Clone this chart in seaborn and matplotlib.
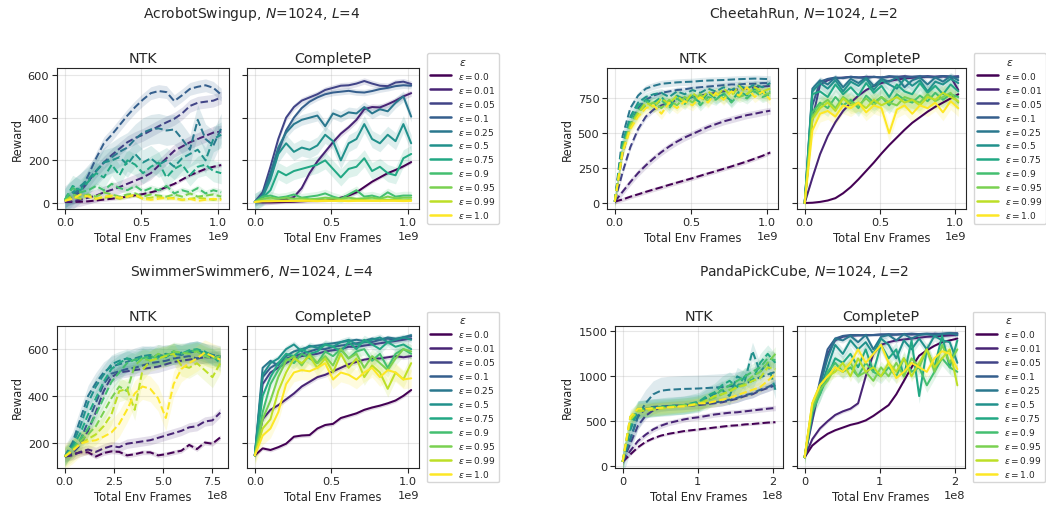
import numpy as np
import matplotlib
matplotlib.use("Agg")
import matplotlib.pyplot as plt
from matplotlib.lines import Line2D
from matplotlib.ticker import MultipleLocator
import seaborn as sns

sns.set_style("ticks")
plt.rcParams["font.family"] = ["DejaVu Sans"]

# ---------------- data ----------------
EPS = [0.0, 0.01, 0.05, 0.1, 0.25, 0.5, 0.75, 0.9, 0.95, 0.99, 1.0]
N_PTS = 21

# AcrobotSwingup (x: 0 .. 1.02e9)
acro_xmax = 1.02e9
acro_ntk = [
    [5, 5, 6, 8, 12, 16, 20, 25, 30, 36, 42, 50, 60, 75, 90, 110, 130, 145, 160, 170, 178],
    [5, 8, 15, 25, 35, 50, 62, 75, 90, 105, 120, 140, 175, 210, 245, 265, 285, 300, 315, 330, 335],
    [10, 25, 55, 100, 150, 190, 225, 255, 285, 305, 320, 340, 360, 378, 395, 420, 455, 470, 475, 480, 495],
    [10, 30, 60, 130, 210, 280, 320, 365, 410, 450, 485, 515, 525, 520, 478, 505, 535, 545, 552, 540, 508],
    [10, 40, 70, 110, 150, 190, 215, 240, 260, 300, 330, 345, 350, 340, 345, 300, 250, 390, 300, 270, 350],
    [10, 50, 80, 110, 150, 190, 200, 215, 180, 230, 190, 210, 180, 200, 170, 210, 230, 250, 200, 300, 320],
    [15, 80, 60, 100, 140, 120, 180, 130, 200, 180, 140, 170, 190, 120, 160, 180, 130, 170, 180, 150, 140],
    [15, 70, 50, 60, 80, 60, 90, 70, 60, 80, 55, 70, 60, 80, 45, 60, 50, 70, 45, 60, 50],
    [10, 40, 30, 40, 30, 50, 40, 30, 40, 45, 30, 40, 35, 30, 40, 30, 45, 30, 35, 40, 30],
    [10, 30, 20, 35, 20, 25, 30, 20, 30, 35, 20, 25, 30, 20, 25, 15, 20, 25, 20, 15, 20],
    [10, 20, 40, 30, 20, 30, 35, 25, 30, 40, 20, 15, 20, 25, 20, 15, 20, 10, 15, 20, 15],
]
acro_ntk_sd = [8, 30, 30, 30, 70, 60, 50, 15, 10, 8, 8]
acro_cp = [
    [5, 3, 3, 4, 5, 6, 8, 10, 12, 14, 18, 25, 35, 50, 75, 100, 120, 140, 155, 172, 192],
    [5, 5, 8, 12, 18, 28, 70, 140, 195, 240, 285, 325, 355, 390, 440, 450, 448, 463, 480, 500, 515],
    [5, 50, 170, 300, 400, 450, 480, 495, 510, 530, 540, 550, 552, 560, 572, 560, 550, 548, 565, 569, 558],
    [5, 35, 120, 240, 340, 400, 445, 475, 495, 510, 518, 522, 526, 520, 518, 525, 534, 540, 548, 552, 550],
    [5, 40, 140, 260, 330, 370, 390, 400, 410, 360, 420, 405, 425, 420, 450, 420, 440, 430, 470, 500, 405],
    [5, 30, 110, 230, 280, 240, 260, 250, 270, 320, 290, 200, 280, 300, 370, 300, 280, 320, 290, 370, 280],
    [5, 25, 60, 150, 130, 150, 160, 170, 180, 200, 160, 120, 160, 170, 210, 150, 170, 140, 130, 210, 230],
    [5, 30, 35, 25, 30, 40, 25, 30, 35, 45, 30, 20, 40, 60, 30, 35, 25, 50, 30, 35, 35],
    [5, 20, 25, 20, 25, 20, 22, 18, 20, 25, 22, 20, 25, 20, 22, 25, 20, 30, 22, 25, 25],
    [5, 10, 12, 10, 12, 10, 12, 13, 12, 14, 12, 13, 12, 15, 14, 12, 13, 15, 14, 13, 14],
    [5, 8, 8, 9, 9, 10, 10, 10, 9, 10, 10, 10, 9, 10, 10, 10, 10, 10, 10, 9, 10],
]
acro_cp_sd = [8, 15, 15, 15, 25, 40, 40, 20, 8, 4, 3]

# CheetahRun (x: 0 .. 1.02e9)
chee_xmax = 1.02e9
chee_ntk = [
    [10, 25, 45, 62, 80, 97, 113, 130, 146, 162, 178, 195, 212, 228, 245, 262, 280, 298, 318, 338, 362],
    [10, 80, 150, 215, 270, 320, 365, 405, 440, 470, 495, 520, 545, 565, 585, 600, 615, 630, 640, 652, 662],
    [10, 220, 400, 530, 620, 670, 700, 720, 740, 755, 760, 770, 780, 790, 800, 810, 815, 820, 830, 835, 840],
    [10, 350, 560, 680, 740, 770, 790, 800, 810, 815, 825, 830, 835, 840, 845, 850, 850, 855, 855, 860, 860],
    [10, 480, 680, 770, 820, 840, 855, 860, 865, 868, 870, 875, 878, 880, 882, 885, 888, 890, 892, 890, 888],
    [10, 430, 620, 720, 760, 780, 790, 760, 800, 780, 810, 790, 820, 800, 830, 810, 840, 820, 850, 830, 860],
    [10, 420, 600, 700, 740, 720, 760, 700, 770, 740, 760, 720, 790, 750, 780, 730, 800, 770, 820, 790, 800],
    [10, 400, 570, 660, 730, 690, 740, 680, 750, 710, 770, 700, 760, 740, 790, 720, 780, 750, 800, 760, 780],
    [10, 380, 560, 650, 700, 720, 680, 740, 700, 760, 720, 780, 730, 790, 750, 800, 760, 780, 820, 770, 790],
    [10, 370, 550, 640, 720, 690, 750, 710, 770, 720, 790, 740, 800, 760, 820, 770, 840, 780, 830, 800, 820],
    [10, 360, 530, 620, 680, 700, 640, 720, 680, 730, 700, 760, 720, 790, 740, 800, 770, 830, 760, 800, 740],
]
chee_ntk_sd = [15, 25, 20, 20, 25, 30, 40, 40, 40, 40, 40]
chee_cp = [
    [0, 2, 8, 18, 35, 70, 115, 170, 230, 290, 355, 415, 470, 525, 575, 615, 655, 690, 720, 750, 780],
    [0, 180, 350, 480, 580, 660, 720, 770, 810, 840, 860, 875, 885, 893, 898, 902, 905, 905, 908, 905, 810],
    [0, 600, 850, 880, 895, 900, 905, 900, 905, 905, 900, 905, 905, 910, 905, 905, 910, 905, 910, 905, 910],
    [0, 700, 870, 890, 900, 895, 905, 900, 895, 905, 900, 910, 905, 900, 905, 910, 905, 900, 910, 905, 900],
    [0, 820, 880, 850, 900, 830, 890, 860, 900, 840, 890, 870, 900, 830, 880, 900, 850, 900, 870, 910, 880],
    [0, 800, 860, 820, 880, 800, 870, 840, 890, 810, 880, 850, 820, 890, 840, 880, 800, 870, 850, 890, 860],
    [0, 780, 800, 760, 850, 780, 830, 770, 860, 790, 840, 760, 850, 800, 780, 860, 790, 840, 780, 850, 800],
    [0, 650, 720, 680, 760, 700, 740, 680, 770, 720, 760, 700, 780, 740, 720, 770, 730, 790, 740, 780, 760],
    [0, 620, 700, 740, 680, 760, 720, 700, 750, 700, 760, 720, 700, 760, 740, 720, 780, 730, 760, 790, 720],
    [0, 600, 680, 720, 660, 750, 700, 720, 680, 740, 700, 730, 760, 720, 740, 700, 760, 740, 790, 760, 730],
    [0, 520, 640, 660, 620, 700, 680, 720, 650, 700, 680, 500, 670, 700, 640, 700, 680, 720, 650, 730, 680],
]
chee_cp_sd = [5, 10, 10, 10, 25, 40, 50, 60, 60, 60, 60]

# SwimmerSwimmer6 (NTK x: 0 .. 7.93e8, CompleteP x: 0 .. 1.02e9)
swim_ntk_xmax = 7.93e8
swim_cp_xmax = 1.02e9
swim_ntk = [
    [140, 150, 158, 158, 140, 155, 162, 160, 145, 150, 158, 158, 145, 150, 158, 165, 190, 172, 200, 195, 222],
    [140, 145, 160, 170, 160, 175, 185, 180, 195, 200, 205, 210, 220, 230, 240, 250, 265, 270, 290, 295, 328],
    [140, 155, 190, 250, 330, 420, 480, 500, 505, 510, 515, 520, 525, 535, 545, 550, 555, 560, 565, 565, 570],
    [140, 165, 210, 290, 370, 450, 495, 505, 515, 520, 530, 540, 545, 550, 560, 565, 570, 560, 565, 570, 560],
    [140, 200, 300, 400, 455, 500, 525, 535, 545, 560, 570, 565, 575, 570, 580, 575, 585, 590, 580, 575, 570],
    [140, 190, 270, 370, 440, 490, 535, 550, 560, 555, 570, 575, 565, 580, 575, 585, 590, 595, 585, 575, 565],
    [140, 180, 240, 320, 390, 460, 515, 540, 560, 545, 570, 560, 575, 565, 590, 580, 595, 600, 590, 570, 540],
    [140, 175, 215, 260, 320, 390, 460, 500, 540, 555, 560, 570, 560, 575, 590, 580, 590, 595, 580, 565, 555],
    [140, 170, 205, 235, 270, 330, 390, 440, 420, 530, 560, 550, 580, 570, 590, 585, 580, 590, 570, 560, 570],
    [140, 165, 195, 215, 235, 270, 320, 420, 430, 340, 510, 550, 560, 570, 580, 530, 520, 540, 510, 480, 540],
    [140, 165, 195, 205, 210, 225, 243, 280, 340, 410, 440, 430, 390, 305, 450, 515, 540, 560, 585, 570, 555],
]
swim_ntk_sd = [10, 20, 25, 25, 45, 40, 35, 35, 40, 45, 55]
swim_cp = [
    [145, 175, 168, 180, 195, 225, 230, 232, 260, 275, 280, 305, 315, 325, 340, 350, 358, 368, 380, 400, 425],
    [145, 300, 340, 360, 385, 410, 440, 460, 480, 490, 505, 520, 535, 545, 555, 560, 560, 565, 570, 565, 570],
    [145, 450, 500, 520, 540, 560, 570, 575, 580, 590, 595, 600, 610, 610, 615, 620, 625, 630, 635, 640, 645],
    [145, 480, 520, 540, 560, 570, 580, 590, 600, 600, 610, 615, 620, 625, 630, 630, 640, 645, 640, 650, 655],
    [145, 520, 550, 530, 570, 590, 600, 610, 615, 620, 625, 630, 635, 640, 635, 645, 640, 650, 645, 650, 660],
    [145, 490, 540, 560, 600, 620, 590, 615, 605, 620, 610, 630, 640, 620, 630, 640, 650, 630, 640, 650, 640],
    [145, 400, 480, 540, 580, 570, 600, 580, 590, 620, 610, 590, 630, 600, 640, 620, 600, 630, 610, 620, 600],
    [145, 330, 450, 510, 560, 540, 580, 560, 540, 590, 570, 600, 560, 590, 600, 550, 580, 520, 580, 600, 580],
    [145, 300, 380, 480, 550, 570, 530, 580, 540, 570, 530, 600, 560, 580, 520, 570, 540, 510, 560, 600, 590],
    [145, 260, 300, 420, 500, 560, 540, 570, 520, 560, 500, 580, 520, 560, 480, 530, 500, 430, 500, 470, 540],
    [145, 230, 260, 330, 450, 500, 510, 505, 520, 540, 470, 500, 490, 470, 500, 520, 480, 510, 500, 470, 475],
]
swim_cp_sd = [8, 10, 10, 10, 10, 15, 20, 25, 30, 35, 40]

# PandaPickCube (x: 0 .. 2.03e8)
panda_xmax = 2.03e8
panda_ntk = [
    [50, 130, 210, 270, 310, 340, 360, 375, 390, 400, 410, 420, 430, 440, 450, 455, 465, 470, 478, 485, 490],
    [50, 170, 280, 350, 410, 450, 480, 500, 520, 535, 545, 560, 575, 585, 595, 600, 610, 620, 630, 640, 648],
    [50, 250, 450, 560, 620, 650, 660, 665, 670, 675, 680, 690, 700, 710, 730, 750, 780, 800, 840, 870, 900],
    [50, 300, 550, 640, 660, 665, 670, 675, 680, 685, 690, 700, 710, 720, 740, 760, 790, 810, 850, 880, 920],
    [50, 300, 560, 700, 800, 840, 850, 855, 860, 862, 865, 870, 875, 880, 890, 900, 920, 950, 990, 1020, 1050],
    [50, 400, 620, 640, 650, 655, 660, 670, 680, 690, 700, 760, 800, 850, 780, 1000, 950, 1280, 1050, 1150, 850],
    [50, 450, 630, 640, 650, 660, 670, 675, 680, 700, 720, 780, 820, 900, 950, 880, 1000, 950, 1150, 1250, 1150],
    [50, 500, 640, 640, 650, 655, 660, 665, 670, 680, 700, 720, 780, 850, 900, 950, 1000, 1050, 1100, 1200, 1180],
    [50, 550, 620, 630, 640, 650, 660, 670, 680, 690, 700, 740, 760, 800, 850, 880, 920, 1000, 1050, 1150, 1250],
    [50, 520, 610, 620, 630, 640, 650, 660, 670, 680, 690, 730, 780, 800, 830, 880, 900, 950, 980, 1100, 1080],
    [50, 550, 640, 640, 645, 650, 655, 660, 665, 680, 700, 700, 720, 740, 760, 790, 820, 850, 880, 950, 1030],
]
panda_ntk_sd = [15, 30, 40, 50, 150, 100, 100, 90, 80, 70, 60]
panda_cp = [
    [100, 230, 300, 360, 400, 430, 460, 480, 510, 560, 620, 680, 800, 950, 1100, 1230, 1290, 1340, 1380, 1400, 1420],
    [100, 300, 420, 500, 570, 610, 640, 700, 1000, 1250, 1350, 1380, 1400, 1410, 1420, 1430, 1440, 1445, 1450, 1455, 1460],
    [100, 500, 900, 1250, 1400, 1440, 1450, 1455, 1460, 1460, 1465, 1460, 1465, 1470, 1465, 1470, 1470, 1475, 1470, 1475, 1475],
    [100, 550, 950, 1300, 1420, 1450, 1460, 1460, 1455, 1460, 1465, 1470, 1465, 1470, 1475, 1470, 1475, 1470, 1475, 1480, 1480],
    [100, 600, 900, 1200, 1420, 1400, 1450, 1380, 1460, 1300, 1440, 1460, 1400, 1470, 1420, 1460, 1470, 1450, 1470, 1480, 1460],
    [100, 650, 850, 1100, 1350, 1250, 1400, 1300, 1380, 1250, 1420, 1350, 1200, 1400, 1300, 1420, 1300, 1450, 1400, 1380, 1150],
    [100, 650, 800, 1000, 1200, 1150, 1250, 1100, 1300, 1050, 1350, 1200, 1300, 1000, 1400, 780, 1300, 1100, 1450, 1100, 1400],
    [100, 600, 800, 1050, 1150, 1050, 1100, 1000, 1150, 1050, 1000, 1100, 1000, 1200, 1050, 1100, 900, 1050, 1200, 1100, 1050],
    [100, 650, 850, 950, 1100, 1050, 1150, 1000, 1050, 950, 1100, 1000, 1150, 1000, 1200, 1100, 1300, 1050, 1350, 1150, 1300],
    [100, 700, 900, 1000, 1050, 1150, 1000, 1200, 1050, 1100, 1000, 1150, 1050, 1200, 1000, 1150, 1300, 1100, 1200, 1300, 900],
    [100, 700, 900, 1000, 1100, 1050, 1150, 1300, 1150, 1250, 1350, 1150, 980, 1050, 1150, 1100, 1050, 1200, 1280, 1250, 1080],
]
panda_cp_sd = [10, 20, 15, 15, 30, 60, 80, 80, 70, 60, 60]

# tick spacing per panel
acro_ticks = (0.5e9, 0.5e9, 200)
chee_ticks = (0.5e9, 0.5e9, 250)
swim_ticks = (2.5e8, 0.5e9, 200)
panda_ticks = (1e8, 1e8, 500)

# ---------------- figure ----------------
W, H = 1046, 510
fig = plt.figure(figsize=(W / 100, H / 100), dpi=100)
colors = plt.cm.viridis(np.linspace(0, 1, len(EPS)))


def rect(x0, y0, x1, y1):
    return [x0 / W, 1 - y1 / H, (x1 - x0) / W, (y1 - y0) / H]


groups = [
    dict(title=r"AcrobotSwingup, $N$=1024, $L$=4", tpos=(252, 14),
         r1=(57, 69, 229, 210), r2=(247, 69, 419, 210),
         ntk=acro_ntk, ntk_sd=acro_ntk_sd, cp=acro_cp, cp_sd=acro_cp_sd,
         xn=acro_xmax, xc=acro_xmax, ylim=(-28, 633), ticks=acro_ticks),
    dict(title=r"CheetahRun, $N$=1024, $L$=2", tpos=(804, 14),
         r1=(607, 69, 778, 210), r2=(797, 69, 966, 210),
         ntk=chee_ntk, ntk_sd=chee_ntk_sd, cp=chee_cp, cp_sd=chee_cp_sd,
         xn=chee_xmax, xc=chee_xmax, ylim=(-43, 968), ticks=chee_ticks),
    dict(title=r"SwimmerSwimmer6, $N$=1024, $L$=4", tpos=(252, 272),
         r1=(57, 327, 228, 469), r2=(247, 327, 419, 469),
         ntk=swim_ntk, ntk_sd=swim_ntk_sd, cp=swim_cp, cp_sd=swim_cp_sd,
         xn=swim_ntk_xmax, xc=swim_cp_xmax, ylim=(91, 699), ticks=swim_ticks),
    dict(title=r"PandaPickCube, $N$=1024, $L$=2", tpos=(804, 272),
         r1=(615, 327, 783, 469), r2=(797, 327, 965, 469),
         ntk=panda_ntk, ntk_sd=panda_ntk_sd, cp=panda_cp, cp_sd=panda_cp_sd,
         xn=panda_xmax, xc=panda_xmax, ylim=(-20, 1560), ticks=panda_ticks),
]

LW = 1.45
TICK_FS = 8.2
for g in groups:
    ax1 = fig.add_axes(rect(*g["r1"]))
    ax2 = fig.add_axes(rect(*g["r2"]), sharey=ax1)
    tx1, tx2, ty = g["ticks"]
    for ax, data, sd, xmax, ls, name, tx in [
        (ax1, g["ntk"], g["ntk_sd"], g["xn"], "--", "NTK", tx1),
        (ax2, g["cp"], g["cp_sd"], g["xc"], "-", "CompleteP", tx2),
    ]:
        x = np.linspace(0, xmax, N_PTS)
        for i, (vals, s) in enumerate(zip(data, sd)):
            y = np.asarray(vals, dtype=float)
            ax.fill_between(x, y - s, y + s, color=colors[i], alpha=0.15, lw=0)
            sns.lineplot(x=x, y=y, ax=ax, color=colors[i], lw=LW,
                         linestyle=ls, errorbar=None, sort=False)
        ax.xaxis.set_major_locator(MultipleLocator(tx))
        ax.set_title(name, fontsize=10.3, pad=4)
        ax.set_xlabel("Total Env Frames", fontsize=8.3, labelpad=3.5)
        ax.grid(True, color="#b0b0b0", alpha=0.3, lw=0.8)
        ax.tick_params(labelsize=TICK_FS, length=3.5, width=0.8, pad=2)
        ax.xaxis.get_offset_text().set_fontsize(TICK_FS)
        for sp in ax.spines.values():
            sp.set_linewidth(0.8)
    ax1.yaxis.set_major_locator(MultipleLocator(ty))
    ax1.set_ylim(*g["ylim"])
    ax1.set_ylabel("Reward", fontsize=8.3, labelpad=3)
    ax2.set_ylabel("")
    ax2.tick_params(labelleft=False)
    handles = [Line2D([], [], color=c, lw=1.8) for c in colors]
    labels = [r"$\varepsilon = %s$" % e for e in EPS]
    ax2.legend(handles, labels, title=r"$\varepsilon$", loc="center left",
               bbox_to_anchor=(1.045, 0.5), borderaxespad=0, fontsize=6.5,
               title_fontsize=7.8, handlelength=2.3, labelspacing=0.33,
               frameon=True)
    fig.text(g["tpos"][0] / W, 1 - g["tpos"][1] / H, g["title"],
             ha="center", va="center", fontsize=10)

fig.savefig("out.png", dpi=100)
